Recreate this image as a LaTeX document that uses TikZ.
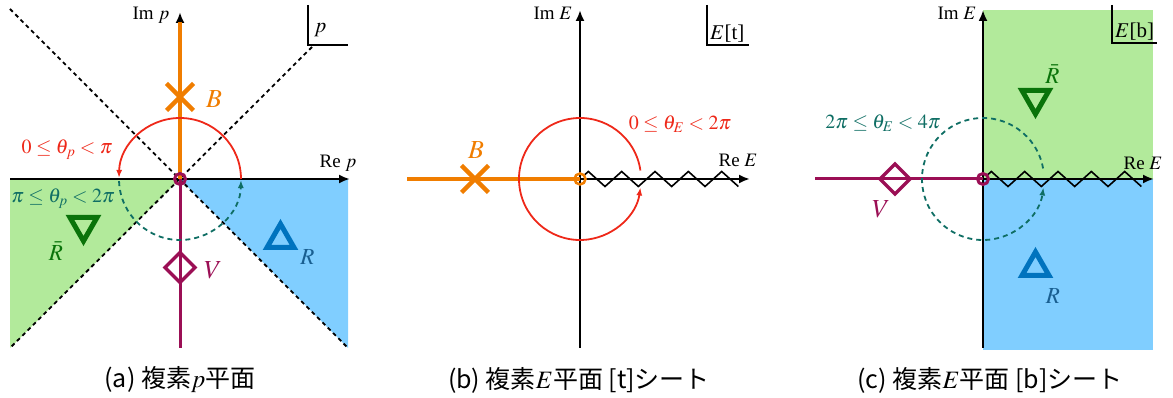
\documentclass[tikz,border=0pt]{standalone}
\usepackage{mathptmx}
\usepackage{fontspec}
\setmainfont{Liberation Serif}
\newfontfamily\cjk{Noto Sans CJK JP}
\usetikzlibrary{arrows.meta}
\definecolor{myorange}{RGB}{240,125,0}
\definecolor{myred}{RGB}{238,40,25}
\definecolor{mypurple}{RGB}{155,15,85}
\definecolor{myteal}{RGB}{15,110,100}
\definecolor{greenfill}{RGB}{178,234,155}
\definecolor{mygreen}{RGB}{10,115,10}
\definecolor{bluefill}{RGB}{128,206,255}
\definecolor{myblue}{RGB}{0,115,190}
\definecolor{Rblue}{RGB}{25,95,145}
\begin{document}
\begin{tikzpicture}[x=1pt,y=1pt,
  axis/.style={line width=2.5pt,-{Latex[length=11pt,width=9pt]}},
  diag/.style={line width=1.8pt,dash pattern=on 4pt off 3.5pt},
  orangeline/.style={draw=myorange,line width=3.5pt},
  purpleline/.style={draw=mypurple,line width=3pt},
  redarc/.style={draw=myred,line width=1.8pt,-{Latex[length=8pt,width=6pt]}},
  tealarc/.style={draw=myteal,line width=1.8pt,dash pattern=on 5pt off 4pt,-{Latex[length=8pt,width=6pt]}},
  crossline/.style={draw=myorange,line width=4.5pt},
  trimark/.style={line width=5pt,line join=miter},
  diamondmark/.style={draw=mypurple,line width=3.5pt,line join=miter},
  ring/.style={line width=3pt},
  zz/.style={line width=1.6pt,line join=miter},
  cornerline/.style={line width=1.6pt},
  axlabel/.style={inner sep=0pt,font=\fontsize{19}{21}\selectfont},
  thlabel/.style={inner sep=0pt,font=\fontsize{20}{22}\selectfont},
  biglabel/.style={inner sep=0pt,font=\fontsize{26}{28}\selectfont},
  rlabel/.style={inner sep=0pt,font=\fontsize{23}{25}\selectfont},
  cornerlabel/.style={inner sep=0pt,font=\fontsize{21}{23}\selectfont},
  caption/.style={inner sep=0pt,font=\fontsize{25}{28}\selectfont}
]
\useasboundingbox (0,0) rectangle (1173,398);

% ---------------- panel (a) ----------------
\begin{scope}[shift={(180,219)}]
  \coordinate (a-o) at (0,0);
  \coordinate (a-xl) at (-170,0);
  \coordinate (a-xr) at (170,0);
  \coordinate (a-yb) at (0,-169);
  \coordinate (a-yt) at (0,167);
  \coordinate (a-ot) at (0,157);
  \coordinate (a-tl) at (-170,170);
  \coordinate (a-br) at (168,-169);
  \coordinate (a-tr) at (132,132);
  \coordinate (a-bl) at (-170,-169);
  \fill[greenfill] (a-o) -- (-170,0) -- (-170,-169) -- cycle;
  \fill[bluefill] (a-o) -- (168,0) -- (168,-169) -- cycle;
  \draw[diag] (a-tl) -- (a-br);
  \draw[diag] (a-tr) -- (a-bl);
  \draw[axis] (a-xl) -- (a-xr);
  \draw[axis] (a-yb) -- (a-yt);
  \draw[orangeline] (a-o) -- (a-ot);
  \draw[purpleline] (a-o) -- (a-yb);
  \draw[redarc] ([shift={(0:61)}]a-o) arc[start angle=0,end angle=179,radius=61];
  \draw[tealarc] ([shift={(182:61)}]a-o) arc[start angle=182,end angle=359,radius=61];
  % cross B
  \draw[crossline] (-13.5,68.5) -- (13.5,95.5);
  \draw[crossline] (-13.5,95.5) -- (13.5,68.5);
  % diamond V
  \draw[diamondmark] (0,-73.5) -- (15,-88.5) -- (0,-103.5) -- (-15,-88.5) -- cycle;
  % triangles
  \draw[trimark,draw=mygreen] (-110,-38.5) -- (-83,-38.5) -- (-96.5,-62) -- cycle;
  \draw[trimark,draw=myblue] (87,-68.5) -- (114,-68.5) -- (100.5,-45) -- cycle;
  \draw[ring,draw=mypurple] (a-o) circle (5.5);
  % labels
  \node[axlabel] (a-im) at (-29,164) {Im $p$};
  \node[axlabel] (a-re) at (158,16) {Re $p$};
  \node[biglabel,text=myorange] (a-B) at (34,80) {$B$};
  \node[thlabel,text=myred] (a-th1) at (-113,29) {$0\le\theta_p<\pi$};
  \node[thlabel,text=myteal] (a-th2) at (-117,-20) {$\pi\le\theta_p<2\pi$};
  \node[rlabel,text=mygreen] (a-Rb) at (-124,-72) {$\bar{R}$};
  \node[biglabel,text=mypurple] (a-V) at (33,-91) {$V$};
  \node[rlabel,text=Rblue] (a-R) at (127.5,-78.5) {$R$};
  \draw[cornerline] (128,174) -- (128,134) -- (168,134);
  \node[cornerlabel,anchor=base west] (a-c) at (134,146) {$p$};
\end{scope}

% ---------------- panel (b) ----------------
\begin{scope}[shift={(580,219)}]
  \coordinate (b-o) at (0,0);
  \coordinate (b-xl) at (-173,0);
  \coordinate (b-xr) at (170,0);
  \coordinate (b-yb) at (0,-169);
  \coordinate (b-yt) at (0,169);
  \draw[axis] (b-yb) -- (b-yt);
  \draw[axis] (b-o) -- (b-xr);
  \draw[orangeline] (b-xl) -- (b-o);
  \draw[zz] (4.2,3.75) \foreach \k in {0,...,9}{ -- ({8.33+16.67*\k},{7.5*(1-2*mod(\k,2))}) };
  \draw[redarc] ([shift={(8:61)}]b-o) arc[start angle=8,end angle=352,radius=61];
  \draw[crossline] (-118.5,-13.5) -- (-91.5,13.5);
  \draw[crossline] (-118.5,13.5) -- (-91.5,-13.5);
  \draw[ring,line width=2.5pt,draw=myorange] (b-o) circle (5.5);
  \node[axlabel] (b-im) at (-27,166) {Im $E$};
  \node[axlabel] (b-re) at (158,19) {Re $E$};
  \node[biglabel,text=myorange] (b-B) at (-104,29) {$B$};
  \node[thlabel,text=myred] (b-th) at (100,55) {$0\le\theta_E<2\pi$};
  \draw[cornerline] (127,174) -- (127,134) -- (169,134);
  \node[cornerlabel,anchor=base west] (b-c) at (130,139) {$E$[t]};
\end{scope}

% ---------------- panel (c) ----------------
\begin{scope}[shift={(983,219)}]
  \coordinate (c-o) at (0,0);
  \coordinate (c-xl) at (-168,0);
  \coordinate (c-xr) at (171,0);
  \coordinate (c-yb) at (0,-169);
  \coordinate (c-yt) at (0,169);
  \fill[greenfill] (c-o) rectangle (170,169);
  \fill[bluefill] (c-o) rectangle (170,-171);
  \draw[axis] (c-yb) -- (c-yt);
  \draw[axis] (c-o) -- (c-xr);
  \draw[purpleline] (c-xl) -- (c-o);
  \draw[zz] (4.2,3.75) \foreach \k in {0,...,9}{ -- ({8.33+16.67*\k},{7.5*(1-2*mod(\k,2))}) };
  \draw[tealarc] ([shift={(10:61)}]c-o) arc[start angle=10,end angle=352,radius=61];
  \draw[diamondmark] (-88,15) -- (-73,0) -- (-88,-15) -- (-103,0) -- cycle;
  \draw[trimark,draw=mygreen] (39,88.5) -- (66,88.5) -- (52.5,65) -- cycle;
  \draw[trimark,draw=myblue] (39,-96.5) -- (66,-96.5) -- (52.5,-73) -- cycle;
  \draw[ring,draw=mypurple] (c-o) circle (5.5);
  \node[axlabel] (c-im) at (-26,166) {Im $E$};
  \node[axlabel] (c-re) at (160,16) {Re $E$};
  \node[biglabel,text=mypurple] (c-V) at (-102,-30) {$V$};
  \node[thlabel,text=myteal] (c-th) at (-100,56) {$2\pi\le\theta_E<4\pi$};
  \node[rlabel,text=mygreen] (c-Rb) at (69.5,105) {$\bar{R}$};
  \node[rlabel,text=Rblue] (c-R) at (70,-117) {$R$};
  \draw[cornerline] (129,174) -- (129,136) -- (174,136);
  \node[cornerlabel,anchor=base west] (c-c) at (132,141) {$E$[b]};
\end{scope}

% captions
\node[caption] (capa) at (180,18) {{\cjk (a) 複素}$p${\cjk 平面}};
\node[caption] (capb) at (579,18) {{\cjk (b) 複素}$E${\cjk 平面 [t]シート}};
\node[caption] (capc) at (990,18) {{\cjk (c) 複素}$E${\cjk 平面 [b]シート}};
\end{tikzpicture}
\end{document}
